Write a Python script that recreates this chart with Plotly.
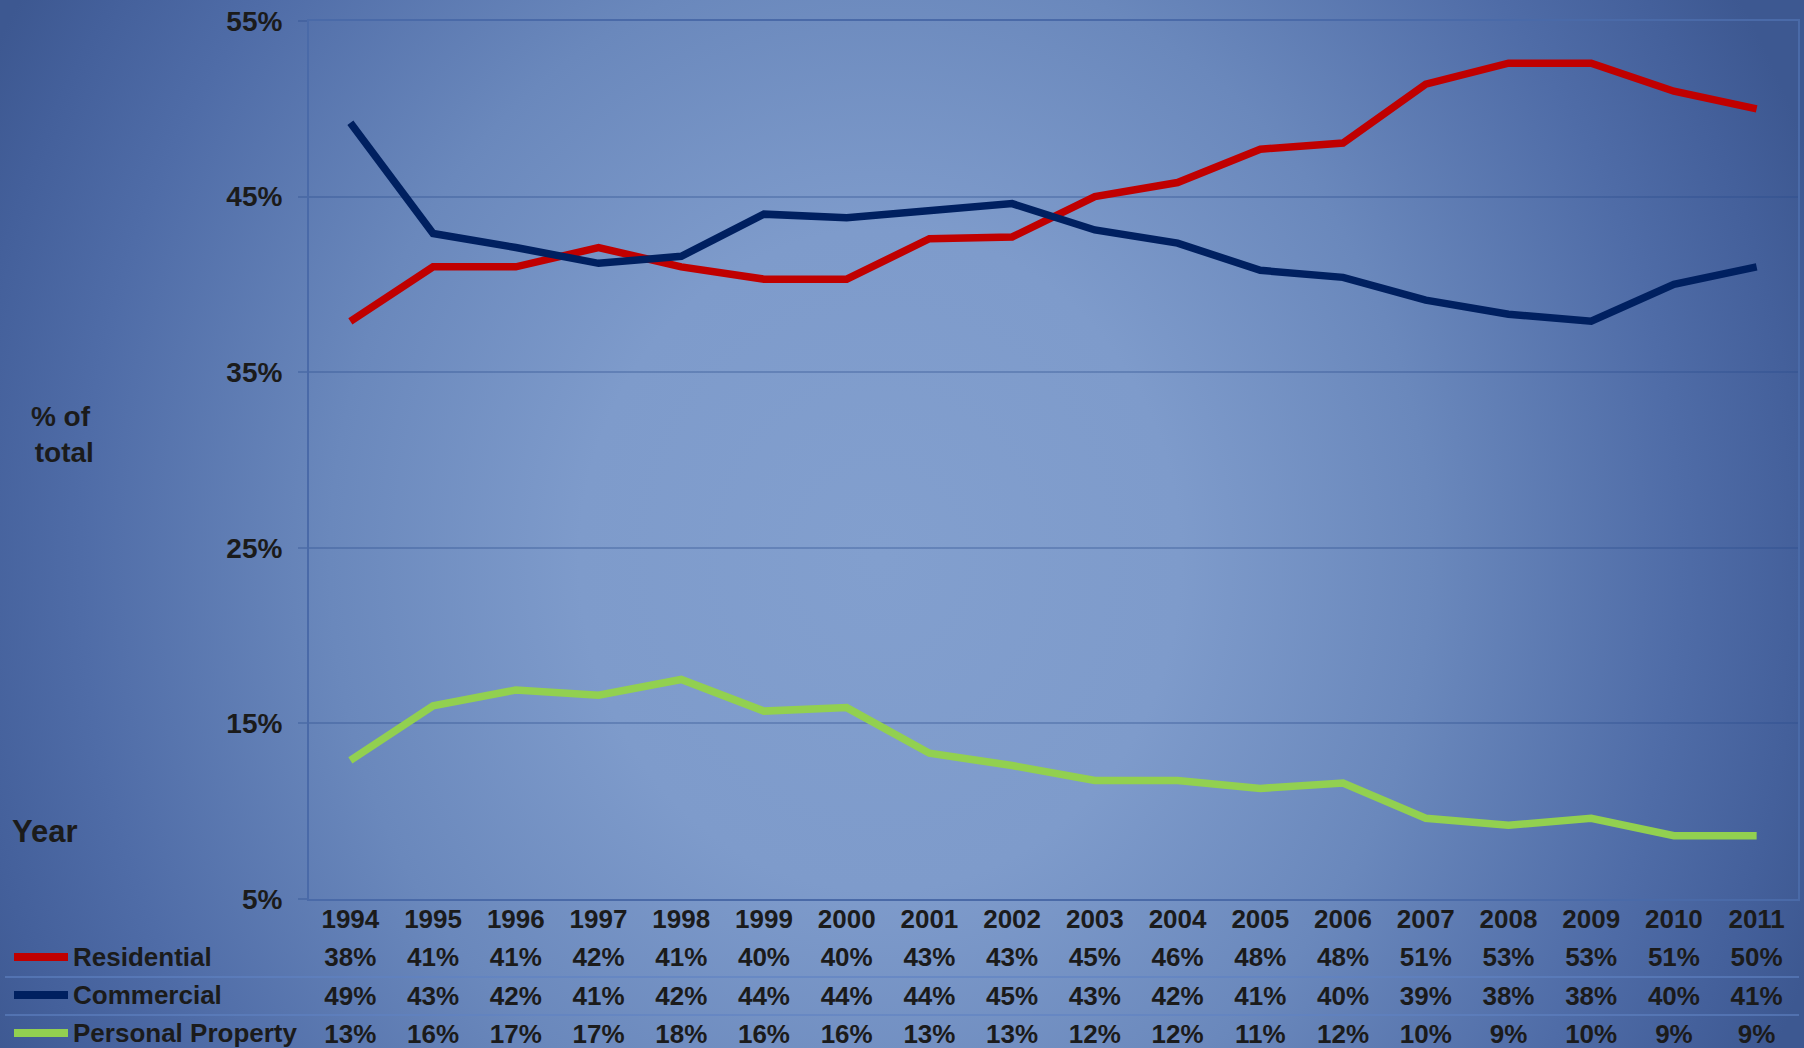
import base64
import plotly.graph_objects as go

# ---------------- data ----------------
years = ["1994", "1995", "1996", "1997", "1998", "1999", "2000", "2001", "2002",
         "2003", "2004", "2005", "2006", "2007", "2008", "2009", "2010", "2011"]

residential = [37.9, 41.0, 41.0, 42.1, 41.0, 40.3, 40.3, 42.6, 42.7,
               45.0, 45.8, 47.7, 48.05, 51.4, 52.6, 52.6, 51.0, 50.0]
commercial = [49.2, 42.9, 42.1, 41.2, 41.6, 44.0, 43.8, 44.2, 44.6,
              43.1, 42.35, 40.8, 40.4, 39.1, 38.3, 37.9, 40.0, 41.0]
personal = [12.9, 16.0, 16.9, 16.6, 17.5, 15.7, 15.9, 13.3, 12.6,
            11.75, 11.75, 11.3, 11.6, 9.6, 9.2, 9.6, 8.6, 8.6]

# values printed in the data table under the chart
residential_lbl = [38, 41, 41, 42, 41, 40, 40, 43, 43, 45, 46, 48, 48, 51, 53, 53, 51, 50]
commercial_lbl = [49, 43, 42, 41, 42, 44, 44, 44, 45, 43, 42, 41, 40, 39, 38, 38, 40, 41]
personal_lbl = [13, 16, 17, 17, 18, 16, 16, 13, 13, 12, 12, 11, 12, 10, 9, 10, 9, 9]

series_names = ["Residential", "Commercial", "Personal Property"]
series_colors = ["#c00000", "#002060", "#92d050"]

y_ticks = [5, 15, 25, 35, 45, 55]
y_ticktext = ["5%", "15%", "25%", "35%", "45%", "55%"]

# ---------------- geometry (pixels) ----------------
W, H = 1804, 1048
ML, MR, MT = 309, 6, 21
PLOT_BOTTOM = 899          # bottom edge of the chart plot area
PW = W - ML - MR
PH = H - MT                # paper height (table lives inside paper)
ROW_H = 38.3               # data-table row height
ROW_SHIFT = 3.5 / ROW_H    # small downward nudge of table text


def px_x(px):
    return (px - ML) / PW


def px_y(py):
    return (H - py) / PH


FONT = "Liberation Sans, Arial, Helvetica, sans-serif"
TXT = "#1b1b1b"

# background radial gradient as an svg image
svg = f"""<svg xmlns='http://www.w3.org/2000/svg' width='{W}' height='{H}' viewBox='0 0 {W} {H}' preserveAspectRatio='none'>
<defs><radialGradient id='g' gradientUnits='userSpaceOnUse' cx='880' cy='560' r='1000'
 gradientTransform='translate(880 560) scale(1 1.1) translate(-880 -560)'>
<stop offset='0' stop-color='#829fce'/>
<stop offset='0.30' stop-color='#7e9bcb'/>
<stop offset='0.55' stop-color='#6a88bc'/>
<stop offset='0.80' stop-color='#4f6ca7'/>
<stop offset='0.92' stop-color='#44609b'/>
<stop offset='1' stop-color='#3d5891'/>
</radialGradient></defs>
<rect x='0' y='0' width='{W}' height='{H}' fill='url(#g)'/>
</svg>"""
bg_src = "data:image/svg+xml;base64," + base64.b64encode(svg.encode()).decode()

fig = go.Figure()

for name, vals, col in zip(series_names, [residential, commercial, personal], series_colors):
    fig.add_trace(go.Scatter(
        x=years, y=vals, mode="lines", name=name,
        line=dict(color=col, width=7.5),
        hoverinfo="x+y+name", xaxis="x", yaxis="y",
    ))

tfont = dict(family=FONT, size=26, color=TXT, weight="bold")

# data table below the chart: row 0 = years, rows 1..3 = series values
table_rows = [years] + [[f"{v}%" for v in lbls]
                        for lbls in [residential_lbl, commercial_lbl, personal_lbl]]
for ri, row_text in enumerate(table_rows):
    fig.add_trace(go.Scatter(
        x=years, y=[ri] * len(years), mode="text", text=row_text,
        textposition="middle center", textfont=tfont, cliponaxis=False,
        hoverinfo="skip", showlegend=False, xaxis="x", yaxis="y2",
    ))

annotations = []
shapes = []

row_py = [957, 995, 1033]
for r, (name, col) in enumerate(zip(series_names, series_colors)):
    yp = px_y(row_py[r])
    annotations.append(dict(
        x=px_x(71), y=yp, xref="paper", yref="paper", xanchor="left", yanchor="middle",
        text=name, showarrow=False, font=tfont))
    shapes.append(dict(type="line", xref="paper", yref="paper",
                       x0=px_x(14), x1=px_x(68), y0=yp, y1=yp,
                       line=dict(color=col, width=8)))

# table separators
for py in [977, 1015]:
    shapes.append(dict(type="line", xref="paper", yref="paper",
                       x0=px_x(5), x1=px_x(1799), y0=px_y(py), y1=px_y(py),
                       line=dict(color="rgba(95,130,195,0.8)", width=1.5)))

annotations.append(dict(
    x=px_x(60), y=px_y(435), xref="paper", yref="paper", xanchor="center", yanchor="middle",
    text="% of<br> total", showarrow=False, align="center",
    font=dict(family=FONT, size=28, color=TXT, weight="bold")))
annotations.append(dict(
    x=px_x(10), y=px_y(831), xref="paper", yref="paper", xanchor="left", yanchor="middle",
    text="Year", showarrow=False,
    font=dict(family=FONT, size=31, color=TXT, weight="bold")))

split = px_y(PLOT_BOTTOM)
table_span = (H - PLOT_BOTTOM) / ROW_H
top_edge = -0.5 - ROW_SHIFT

fig.update_layout(
    width=W, height=H,
    margin=dict(l=ML, r=MR, t=MT, b=0, pad=0, autoexpand=False),
    paper_bgcolor="#5a77ae",
    plot_bgcolor="rgba(0,0,0,0)",
    showlegend=False,
    images=[dict(source=bg_src, xref="paper", yref="paper",
                 x=px_x(0), y=px_y(0), sizex=W / PW, sizey=H / PH,
                 xanchor="left", yanchor="top", sizing="stretch", layer="below")],
    shapes=shapes,
    annotations=annotations,
    xaxis=dict(
        type="category", range=[-0.5, len(years) - 0.5], anchor="y",
        showgrid=False, zeroline=False, automargin=False,
        showline=True, mirror=True, linecolor="#4a6aa8", linewidth=2,
        ticks="", showticklabels=False,
    ),
    yaxis=dict(
        domain=[split, 1], anchor="x", automargin=False,
        range=[5, 55], tickvals=y_ticks, ticktext=y_ticktext,
        showgrid=True, gridcolor="rgba(40,75,140,0.32)", gridwidth=1.5,
        zeroline=False,
        showline=True, mirror=True, linecolor="#4a6aa8", linewidth=2,
        ticks="outside", ticklen=9, tickcolor="rgba(40,75,140,0.32)", tickwidth=1.5,
        ticklabelstandoff=10,
        tickfont=dict(family=FONT, size=28, color=TXT, weight="bold"),
    ),
    yaxis2=dict(
        domain=[0, split], anchor="x", automargin=False,
        range=[top_edge + table_span, top_edge], visible=False,
        showgrid=False, zeroline=False, fixedrange=True,
    ),
)

fig.write_html("out.html", config={"displayModeBar": False, "responsive": False},
               post_script="document.body.style.margin='0';")
